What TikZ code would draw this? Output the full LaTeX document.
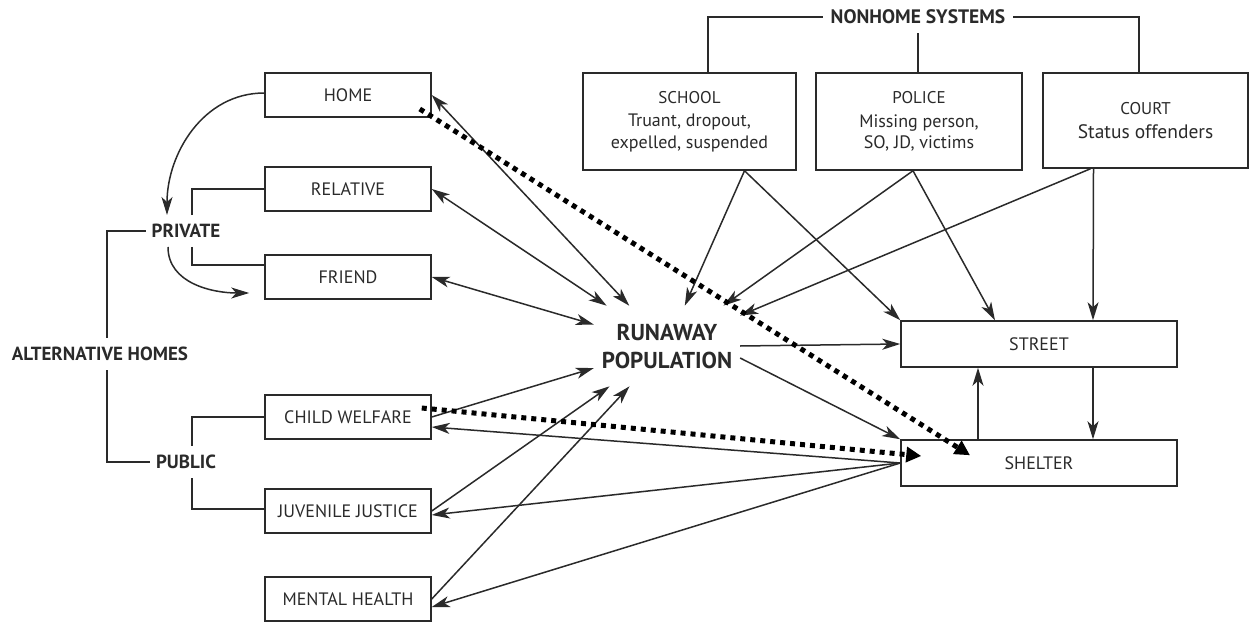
\documentclass[tikz,border=0pt]{standalone}
\usepackage{fontspec}
\setmainfont{PT Sans}
\usetikzlibrary{shapes.geometric, arrows.meta}
\definecolor{ink}{HTML}{2A2A2A}
\tikzstyle{box} = [rectangle, minimum width=166pt, minimum height=44pt, inner sep=0pt, text centered, draw=ink, line width=1.5pt, text=ink, font=\fontsize{18}{20}\selectfont]
\tikzstyle{sysbox} = [rectangle, minimum height=97pt, align=center, draw=ink, line width=1.5pt, text=ink, font=\fontsize{18}{21.5}\selectfont]
\tikzstyle{heading} = [inner xsep=6pt, inner ysep=9pt, text=ink, font=\bfseries\fontsize{19}{22}\selectfont]
\tikzstyle{link} = [draw=ink, line width=1.5pt]
\tikzstyle{arrow} = [link,->,>={Stealth[length=18pt,width=11pt,inset=5pt]}]
\tikzstyle{twoway} = [link,<->,>={Stealth[length=18pt,width=11pt,inset=5pt]}]
\tikzstyle{dotarrow} = [draw=black, line width=5pt, dash pattern=on 5pt off 5pt, -{Triangle[length=15pt,width=15pt]}]

\begin{document}
\begin{tikzpicture}[x=1pt, y=-1pt]
\useasboundingbox (0,0) rectangle (1255,623);

% Homes
\node (home) [box] at (348,95) {HOME};
\node (relative) [box] at (348,189) {RELATIVE};
\node (friend) [box] at (348,277) {FRIEND};
\node (welfare) [box] at (348,417) {CHILD WELFARE};
\node (justice) [box] at (348,511) {JUVENILE JUSTICE};
\node (mental) [box] at (348,599) {MENTAL HEALTH};

\node (private) [heading] at (186,231) {PRIVATE};
\node (alternative) [heading] at (100,354) {ALTERNATIVE HOMES};
\node (public) [heading] at (186,462) {PUBLIC};

% Nonhome systems
\node (nonhome) [heading, inner xsep=8pt, font=\bfseries\fontsize{19.5}{22}\selectfont] at (918,17) {NONHOME SYSTEMS};
\node (school) [sysbox, minimum width=213pt] at (689.5,121.5) {{\fontsize{17}{18}\selectfont SCHOOL}\\[2pt] Truant, dropout,\\ expelled, suspended};
\node (police) [sysbox, minimum width=206pt] at (919,121.5) {{\fontsize{17}{18}\selectfont POLICE}\\[2pt] Missing person,\\ SO, JD, victims};
\node (court) [sysbox, minimum width=205pt, minimum height=95pt, font=\fontsize{19.5}{21.5}\selectfont] at (1145.5,120.5) {{\fontsize{17}{18}\selectfont COURT}\\[2pt] Status offenders};

\node (runaway) [align=center, inner sep=0pt, outer xsep=8pt, outer ysep=18pt, text=ink, font=\bfseries\fontsize{23}{28}\selectfont] at (667,346) {RUNAWAY\\POPULATION};
\node (street) [box, minimum width=276pt, minimum height=46pt] at (1039,344) {STREET};
\node (shelter) [box, minimum width=276pt, minimum height=46pt] at (1039,463) {SHELTER};

% Brackets
\draw [link] ([xshift=6pt]private.north) |- (relative.west);
\draw [link] ([xshift=6pt]private.south) |- ([yshift=12pt]friend.west);
\draw [link] (private.west) -| ([xshift=7pt]alternative.north);
\draw [link] ([xshift=7pt]alternative.south) |- (public.west);
\draw [link] ([xshift=6pt]public.north) |- (welfare.west);
\draw [link] ([xshift=6pt]public.south) |- ([yshift=2pt]justice.west);
\draw [link] (nonhome.west) -| ([xshift=18.5pt]school.north);
\draw [link] (nonhome.east) -| ([xshift=-6.5pt]court.north);
\draw [link] (nonhome.south) -- (nonhome.south |- police.north);

% Arrows
\draw [arrow] ([yshift=2pt]home.west) to [out=180,in=90] ([xshift=-19pt]private.north);
\draw [arrow] ([xshift=-18pt]private.south) to [out=-90,in=180] ([xshift=-15pt,yshift=-16pt]friend.west);

\draw [twoway] (home.east) -- (runaway);
\draw [twoway] (relative.east) -- (runaway);
\draw [twoway] (friend.east) -- (runaway);
\draw [arrow] (welfare.east) -- (runaway);
\draw [arrow] (justice.east) -- (runaway);
\draw [arrow] (mental.east) -- (runaway);
\draw [arrow] (shelter.west) -- ([yshift=-10pt]welfare.east);
\draw [arrow] (shelter.west) -- ([yshift=-4pt]justice.east);
\draw [arrow] (shelter.west) -- ([yshift=-8pt]mental.east);

\draw [arrow] ([xshift=55pt]school.south) -- (runaway);
\draw [arrow] ([xshift=55pt]school.south) -- (street.north west);
\draw [arrow] ([xshift=-6pt]police.south) -- (runaway);
\draw [arrow] ([xshift=-6pt]police.south) -- ([xshift=-44pt]street.north);
\draw [arrow] ([xshift=-55pt]court.south) -- (runaway);
\draw [arrow] ([xshift=-52pt]court.south) -- ([xshift=54pt]street.north);

\draw [arrow] (runaway.east) -- (street.west);
\draw [arrow] ([yshift=-12pt]runaway.east) -- (shelter.north west);
\draw [arrow] ([xshift=-61pt]shelter.north) -- ([xshift=-61pt]street.south);
\draw [arrow] ([xshift=54pt]street.south) -- ([xshift=54pt]shelter.north);

% Dotted paths
\draw [dotarrow] ([xshift=-12pt,yshift=-14pt]home.east) -- ([xshift=-69pt,yshift=-16pt]shelter.north);
\draw [dotarrow] ([xshift=-10pt,yshift=9pt]welfare.east) -- ([xshift=21pt,yshift=7pt]shelter.west);

\end{tikzpicture}
\end{document}
